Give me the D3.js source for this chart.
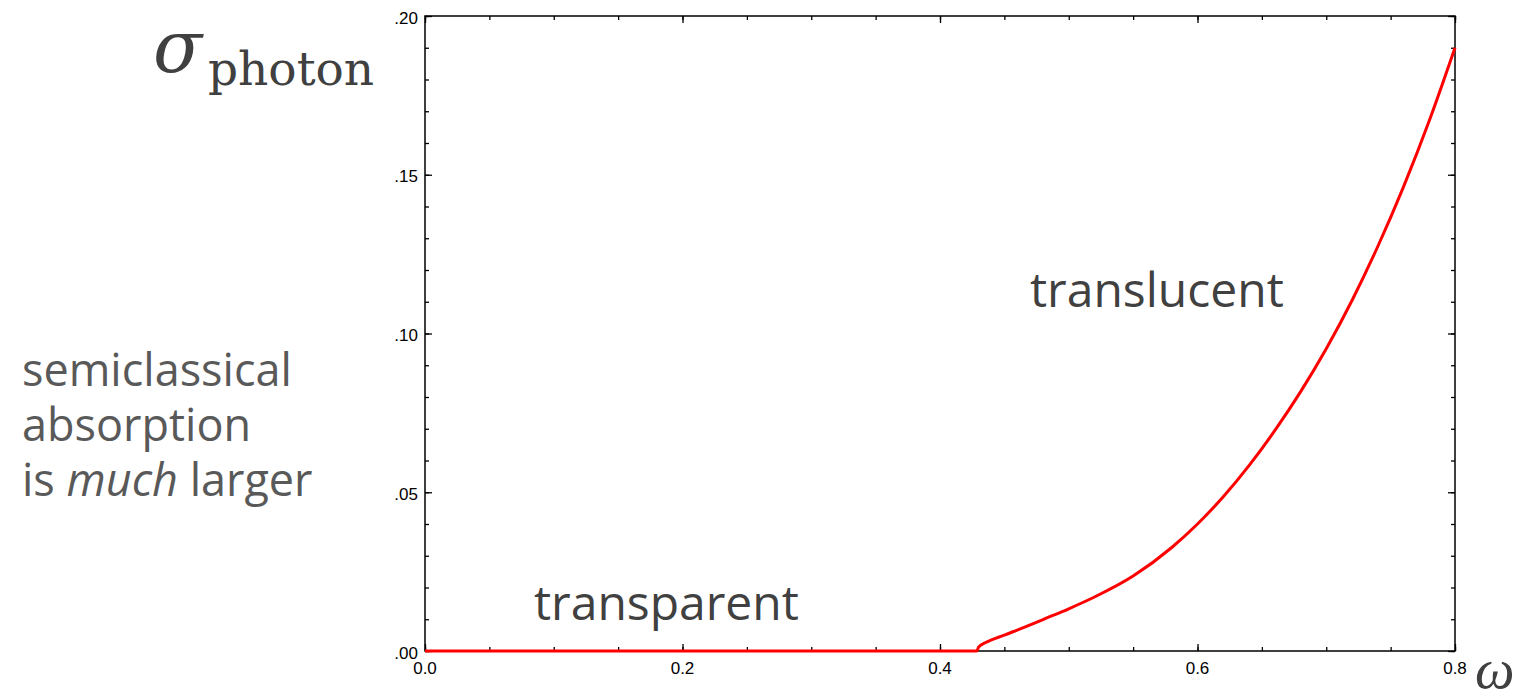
<!DOCTYPE html>
<html lang="en">
<head>
    <meta charset="UTF-8">
    <title>Photon absorption cross section</title>
    <script src="https://d3js.org/d3.v7.min.js"></script>
    <style>
        body { margin: 0; background: #fff; }
        .note { font-family: "Open Sans", sans-serif; }
    </style>
</head>
<body>
<svg id="chart" width="1532" height="696"></svg>
<script>
    // frequency omega and the cross section
    const omega = [0, 0.1, 0.2, 0.3, 0.4, 0.4285, 0.43, 0.435, 0.44, 0.45, 0.46, 0.47, 0.48,
        0.50, 0.52, 0.55, 0.58, 0.60, 0.62, 0.64, 0.66, 0.68, 0.70, 0.72, 0.74, 0.76, 0.78, 0.80];
    const sigma = [0, 0, 0, 0, 0, 0, 0.0012, 0.0026, 0.0035, 0.0050, 0.0066, 0.0082, 0.0099,
        0.0133, 0.0170, 0.0236, 0.0326, 0.0400, 0.0486, 0.0584, 0.0694, 0.0816, 0.0952,
        0.1104, 0.1274, 0.1462, 0.1670, 0.1900];

    const xMajor = [0, 0.2, 0.4, 0.6, 0.8];
    const xMinor = d3.range(0, 0.8001, 0.05);
    const yMajor = [0, 0.05, 0.10, 0.15, 0.20];
    const yMinor = d3.range(0, 0.2001, 0.01);
    const xLabels = ["0.0", "0.2", "0.4", "0.6", "0.8"];
    const yLabels = [".00", ".05", ".10", ".15", ".20"];

    const margin = { top: 16, right: 77, bottom: 45, left: 425 };
    const width = 1532, height = 696;
    const plotW = width - margin.left - margin.right;
    const plotH = height - margin.top - margin.bottom;

    const svg = d3.select("#chart");
    const g = svg.append("g").attr("transform", `translate(${margin.left},${margin.top})`);

    const x = d3.scaleLinear().domain([0, 0.8]).range([0, plotW]);
    const y = d3.scaleLinear().domain([0, 0.2]).range([plotH, 0]);

    function styleAxis(s) {
        s.select(".domain").remove();
        s.selectAll("line").attr("stroke", "#000").attr("stroke-width", 1.3);
    }

    // ticks on all four sides, pointing inward: minor then major
    const sides = [
        [d3.axisBottom, x, xMinor, xMajor, `translate(0,${plotH})`],
        [d3.axisTop, x, xMinor, xMajor, "translate(0,0)"],
        [d3.axisLeft, y, yMinor, yMajor, "translate(0,0)"],
        [d3.axisRight, y, yMinor, yMajor, `translate(${plotW},0)`]
    ];
    sides.forEach(([mk, sc, minorVals, majorVals, tx]) => {
        g.append("g").attr("transform", tx)
            .call(mk(sc).tickValues(minorVals).tickSizeInner(-4).tickSizeOuter(0).tickFormat(() => ""))
            .call(styleAxis);
        g.append("g").attr("transform", tx)
            .call(mk(sc).tickValues(majorVals).tickSizeInner(-7).tickSizeOuter(0).tickFormat(() => ""))
            .call(styleAxis);
    });

    // tick labels
    g.selectAll(".xlab").data(xMajor).join("text")
        .attr("font-family", "Arial, 'Liberation Sans', sans-serif")
        .attr("font-size", 17).attr("fill", "#000")
        .attr("x", d => x(d)).attr("y", plotH + 23)
        .attr("text-anchor", "middle")
        .text((d, i) => xLabels[i]);
    g.selectAll(".ylab").data(yMajor).join("text")
        .attr("font-family", "Arial, 'Liberation Sans', sans-serif")
        .attr("font-size", 17).attr("fill", "#000")
        .attr("x", -7).attr("y", d => y(d) + 7.5)
        .attr("text-anchor", "end")
        .text((d, i) => yLabels[i]);

    // frame
    g.append("rect")
        .attr("width", plotW).attr("height", plotH)
        .attr("fill", "none").attr("stroke", "#000").attr("stroke-width", 1.5);

    // the curve
    const line = d3.line()
        .x((d, i) => x(omega[i]))
        .y(d => y(d))
        .curve(d3.curveMonotoneX);
    g.append("path")
        .datum(sigma)
        .attr("d", line)
        .attr("fill", "none")
        .attr("stroke", "#ff0000")
        .attr("stroke-width", 3);

    // annotations
    svg.append("text").attr("x", 1030).attr("y", 307).attr("class", "note")
        .attr("font-size", 48).attr("fill", "#404040").text("translucent");
    svg.append("text").attr("x", 534).attr("y", 620).attr("class", "note")
        .attr("font-size", 48).attr("fill", "#404040").text("transparent");

    const side = svg.append("text").attr("class", "note")
        .attr("font-size", 45).attr("fill", "#595959");
    side.append("tspan").attr("x", 22).attr("y", 386).text("semiclassical");
    side.append("tspan").attr("x", 22).attr("y", 441).text("absorption");
    side.append("tspan").attr("x", 22).attr("y", 496).text("is ");
    side.append("tspan").attr("font-style", "italic").text("much");
    side.append("tspan").text(" larger");

    // axis symbols
    const ylab = svg.append("text").attr("x", 153).attr("y", 72)
        .attr("font-family", "'DejaVu Serif', serif").attr("fill", "#404040");
    ylab.append("tspan").attr("font-size", 72).attr("font-style", "italic").text("σ");
    ylab.append("tspan").attr("x", 208).attr("font-size", 47).attr("dy", 13).text("photon");

    svg.append("text").attr("x", 1475).attr("y", 688)
        .attr("font-family", "'Liberation Serif', serif").attr("font-style", "italic")
        .attr("font-size", 56).attr("fill", "#404040").text("ω");
</script>
</body>
</html>
